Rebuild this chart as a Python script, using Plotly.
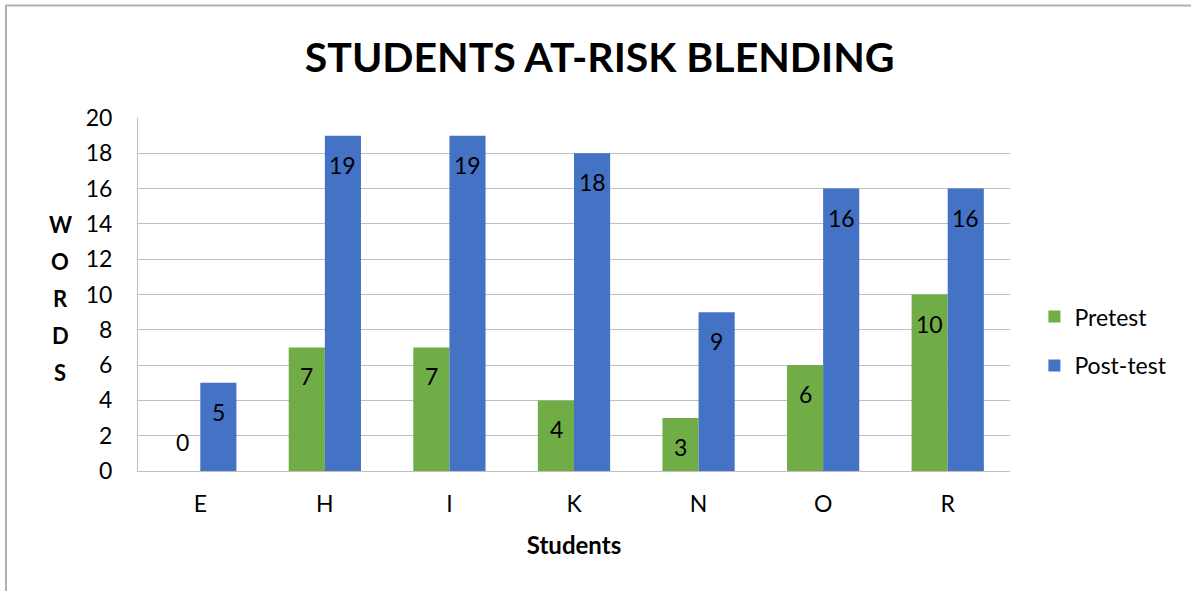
import plotly.graph_objects as go

students = ["E", "H", "I", "K", "N", "O", "R"]
pretest = [0, 7, 7, 4, 3, 6, 10]
posttest = [5, 19, 19, 18, 9, 16, 16]
y_ticks = [0, 2, 4, 6, 8, 10, 12, 14, 16, 18, 20]
title_text = "STUDENTS AT-RISK BLENDING"
y_title_letters = ["W", "O", "R", "D", "S"]
x_title = "Students"

GREEN = "#70AD47"
BLUE = "#4472C4"
FONT = "Lato, 'Open Sans', sans-serif"
GRID = "#BFBFBF"
FS = 23

fig = go.Figure()
fig.add_trace(go.Bar(x=students, y=pretest, name="Pretest", marker_color=GREEN,
                     marker_line_width=0, legendgroup="a"))
fig.add_trace(go.Bar(x=students, y=posttest, name="Post-test", marker_color=BLUE,
                     marker_line_width=0, legendgroup="b"))

annotations = []
for series, shift in ((pretest, -18), (posttest, 18)):
    for s, v in zip(students, series):
        annotations.append(dict(x=s, y=v, xref="x", yref="y", text=str(v), showarrow=False,
                                xshift=shift, yshift=(-29 if v > 0 else 29),
                                font=dict(family=FONT, size=FS, color="black")))

for i, letter in enumerate(y_title_letters):
    annotations.append(dict(x=-0.089, y=0.49, xref="paper", yref="paper", text="<b>%s</b>" % letter,
                            showarrow=False, xanchor="center", yanchor="middle", yshift=(2 - i) * 37,
                            font=dict(family=FONT, size=22, color="black")))

fig.update_layout(
    width=1191, height=591,
    margin=dict(l=138, r=181, t=118, b=120),
    paper_bgcolor="white", plot_bgcolor="white",
    barmode="group", bargap=0.42, bargroupgap=0,
    title=dict(text="<b>%s</b>" % title_text, x=0.5035, xanchor="center", y=0.902, yanchor="middle",
               font=dict(family=FONT, size=41, color="black")),
    font=dict(family=FONT, size=FS, color="black"),
    legend=dict(x=1.028, xanchor="left", y=0.368, yanchor="middle", traceorder="grouped",
                tracegroupgap=16, font=dict(family=FONT, size=FS, color="black")),
    annotations=annotations,
    shapes=[dict(type="rect", xref="paper", yref="paper",
                 x0=(6 - 138) / 872, x1=(1200 - 138) / 872,
                 y0=(471 - 600) / 353, y1=(471 - 5.5) / 353,
                 line=dict(color="#B0B0B0", width=2), fillcolor="rgba(0,0,0,0)", layer="below")],
)

fig.update_xaxes(type="category", showgrid=False, ticks="", showline=True, linecolor=GRID, linewidth=1,
                 tickfont=dict(family=FONT, size=FS), ticklabelstandoff=12,
                 title=dict(text="<b>%s</b>" % x_title, font=dict(family=FONT, size=24), standoff=21))
fig.update_yaxes(range=[0, 20], tickvals=y_ticks, showgrid=True, gridcolor=GRID, gridwidth=1,
                 showline=True, linecolor=GRID, linewidth=1, ticks="", zeroline=False,
                 tickfont=dict(family=FONT, size=FS), ticklabelstandoff=20)

fig.write_html("out.html")
